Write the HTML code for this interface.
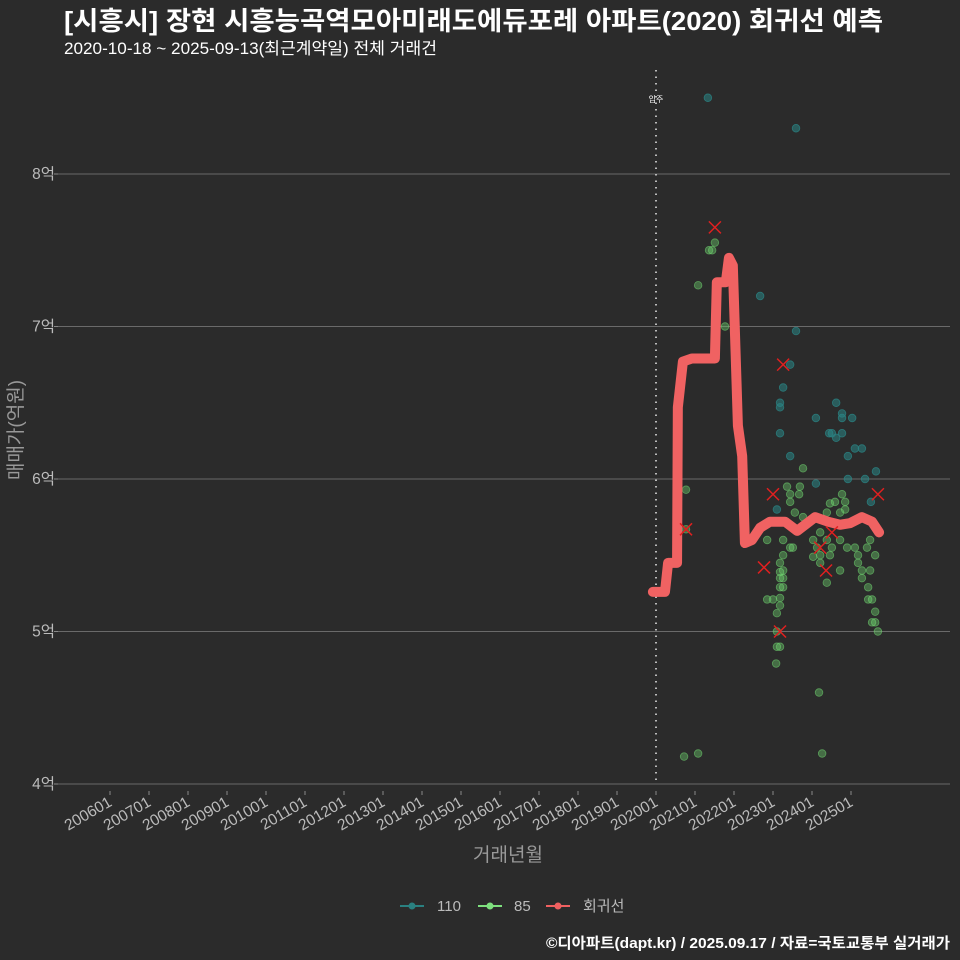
<!DOCTYPE html>
<html><head><meta charset="utf-8"><style>
html,body{margin:0;padding:0;background:#2b2b2b;}
svg{display:block;font-family:"Liberation Sans","Noto Sans CJK KR",sans-serif;}
</style></head><body>
<svg id="chart" width="960" height="960" xmlns="http://www.w3.org/2000/svg">
<rect width="960" height="960" fill="#2b2b2b"/>
<text x="64" y="30" fill="#ffffff" font-size="26" font-weight="bold" textLength="819" lengthAdjust="spacingAndGlyphs">[시흥시] 장현 시흥능곡역모아미래도에듀포레 아파트(2020) 회귀선 예측</text>
<text x="64" y="54" fill="#ffffff" font-size="16.5" textLength="373" lengthAdjust="spacingAndGlyphs">2020-10-18 ~ 2025-09-13(최근계약일) 전체 거래건</text>
<g id="grid"></g>
<g id="axes"></g>
<g id="marks"></g>
<text x="22" y="430" fill="#999" font-size="19" transform="rotate(-90 22 430)" text-anchor="middle">매매가(억원)</text>
<text x="508" y="861" fill="#999" font-size="19" text-anchor="middle">거래년월</text>
<g font-size="15" fill="#bbb">
 <g><line x1="400" y1="906" x2="424" y2="906" stroke="#2a8080" stroke-width="2"/><circle cx="412" cy="906" r="3.5" fill="#2a8080"/><text x="437" y="911">110</text></g>
 <g><line x1="478" y1="906" x2="502" y2="906" stroke="#7ee07e" stroke-width="2"/><circle cx="490" cy="906" r="3.5" fill="#7ee07e"/><text x="514" y="911">85</text></g>
 <g><line x1="546" y1="906" x2="570" y2="906" stroke="#f06060" stroke-width="2"/><circle cx="558" cy="906" r="3.5" fill="#f06060"/><text x="583" y="911">회귀선</text></g>
</g>
<text x="950" y="948" fill="#ffffff" font-size="15" font-weight="bold" text-anchor="end" textLength="404" lengthAdjust="spacingAndGlyphs">©디아파트(dapt.kr) / 2025.09.17 / 자료=국토교통부 실거래가</text>
</svg>
<script>
const yTicks=[4,5,6,7,8];
const yTickLabels=["4억","5억","6억","7억","8억"];
const xTickYears=[2006,2007,2008,2009,2010,2011,2012,2013,2014,2015,2016,2017,2018,2019,2020,2021,2022,2023,2024,2025];
const xTickLabels=["200601","200701","200801","200901","201001","201101","201201","201301","201401","201501","201601","201701","201801","201901","202001","202101","202201","202301","202401","202501"];
const moveInYear=2020;
const s110T=[2021.33,2023.59,2022.67,2023.59,2023.44,2023.26,2023.18,2023.18,2023.18,2023.44,2024.10,2024.62,2024.77,2024.77,2025.03,2024.44,2024.51,2024.62,2024.77,2025.10,2025.28,2024.92,2025.64,2024.92,2025.36,2024.10,2023.10,2025.51];
const s110V=[8.50,8.30,7.20,6.97,6.75,6.60,6.50,6.47,6.30,6.15,6.40,6.50,6.43,6.40,6.40,6.30,6.30,6.27,6.30,6.20,6.20,6.15,6.05,6.00,6.00,5.97,5.80,5.85];
const s85T=[2021.08,2021.36,2021.44,2021.51,2021.77,2020.77,2020.77,2020.72,2021.08,2023.77,2023.36,2023.69,2023.44,2023.67,2024.77,2023.44,2024.59,2024.85,2023.56,2023.77,2024.46,2024.85,2024.38,2024.72,2024.21,2024.03,2024.38,2024.72,2023.26,2022.85,2023.44,2023.51,2024.13,2024.51,2024.90,2025.10,2025.41,2025.49,2023.26,2024.03,2024.21,2024.46,2025.18,2025.62,2023.18,2024.21,2025.18,2023.26,2023.18,2023.26,2023.18,2024.72,2025.28,2025.49,2024.38,2025.28,2023.18,2023.26,2025.44,2022.85,2023.00,2023.18,2023.18,2025.44,2025.54,2023.10,2025.62,2025.54,2025.62,2023.10,2025.69,2023.10,2023.18,2023.08,2024.18,2024.26];
const s85V=[7.27,7.50,7.50,7.55,7.00,5.93,5.67,4.18,4.20,6.07,5.95,5.95,5.90,5.90,5.90,5.85,5.85,5.85,5.78,5.75,5.84,5.80,5.78,5.78,5.65,5.60,5.60,5.60,5.60,5.60,5.55,5.55,5.55,5.55,5.55,5.55,5.55,5.60,5.50,5.49,5.50,5.50,5.50,5.50,5.45,5.45,5.45,5.40,5.39,5.35,5.35,5.40,5.40,5.40,5.32,5.35,5.29,5.29,5.29,5.21,5.21,5.22,5.17,5.21,5.21,5.12,5.13,5.06,5.06,5.00,5.00,4.90,4.90,4.79,4.60,4.20];
const regT=[2019.92,2020.23,2020.31,2020.54,2020.56,2020.69,2020.92,2021.51,2021.56,2021.79,2021.87,2021.97,2022.10,2022.21,2022.28,2022.46,2022.67,2022.92,2023.31,2023.62,2024.08,2024.41,2024.72,2024.97,2025.28,2025.54,2025.72];
const regV=[5.26,5.26,5.45,5.45,6.47,6.77,6.79,6.79,7.29,7.29,7.45,7.40,6.35,6.15,5.58,5.60,5.68,5.72,5.72,5.66,5.75,5.72,5.70,5.71,5.75,5.72,5.65];
const outT=[2021.51,2020.77,2023.26,2023.00,2022.77,2023.18,2024.51,2024.21,2024.36,2025.69];
const outV=[7.65,5.67,6.75,5.90,5.42,5.00,5.65,5.55,5.40,5.90];

const NS="http://www.w3.org/2000/svg";
const X0=58,X1=950,Y0=65,Y1=785;
function xs(t){return 656+(t-2020)*39;}
function ys(v){return 784-(v-4)*152.5;}
function mk(tag,attrs,parent){const e=document.createElementNS(NS,tag);for(const k in attrs)e.setAttribute(k,attrs[k]);parent.appendChild(e);return e;}
const grid=document.getElementById('grid'),axes=document.getElementById('axes'),marks=document.getElementById('marks');
yTicks.forEach((v,i)=>{
 const l=mk('line',{x1:X0,x2:X1,y1:ys(v),y2:ys(v),stroke:'#6a6a6a','stroke-width':1},grid);
 
 
 mk('line',{x1:X0-4,x2:X0,y1:ys(v),y2:ys(v),stroke:'#888'},axes);
 const t=mk('text',{x:X0-3,y:ys(v)+5,fill:'#bbb','font-size':15.5,'text-anchor':'end'},axes);
 t.textContent=yTickLabels[i];
 
 
});
xTickYears.forEach((yr,i)=>{
 const x=xs(yr);
 mk('line',{x1:x,x2:x,y1:Y1+6,y2:Y1+10,stroke:'#888'},axes);
 const t=mk('text',{x:x+3,y:Y1+20,fill:'#bbb','font-size':15.5,'text-anchor':'end',transform:`rotate(-30 ${x+3} ${Y1+20})`},axes);
 t.textContent=xTickLabels[i];
 
 
});
const mv=mk('line',{x1:xs(moveInYear),x2:xs(moveInYear),y1:Y0+5,y2:Y1,stroke:'#bbb','stroke-width':2,'stroke-dasharray':'1.5 5'},marks);


const mvt=mk('text',{x:xs(moveInYear),y:102,fill:'#fff','font-size':8,'text-anchor':'middle'},marks);
mvt.textContent='입주';


s110T.forEach((t,i)=>{
 const c=mk('circle',{cx:xs(t),cy:ys(s110V[i]),r:3.8,fill:'#2a8585','fill-opacity':0.55,stroke:'#2a8585','stroke-opacity':0.8,'stroke-width':0.8},marks);
 
 
});
s85T.forEach((t,i)=>{
 const c=mk('circle',{cx:xs(t),cy:ys(s85V[i]),r:3.8,fill:'#6fd36f','fill-opacity':0.4,stroke:'#6fd36f','stroke-opacity':0.6,'stroke-width':0.8},marks);
 
 
});
const p=mk('polyline',{points:regT.map((t,i)=>xs(t)+','+ys(regV[i])).join(' '),fill:'none',stroke:'#f06262','stroke-width':10,'stroke-linejoin':'round','stroke-linecap':'round'},marks);


outT.forEach((t,i)=>{
 const x=xs(t),y=ys(outV[i]);
 const g=mk('path',{d:`M${x-6},${y-6}L${x+6},${y+6}M${x-6},${y+6}L${x+6},${y-6}`,stroke:'#e02020','stroke-width':1.5,fill:'none'},marks);
 
 
});
</script>
</body></html>
